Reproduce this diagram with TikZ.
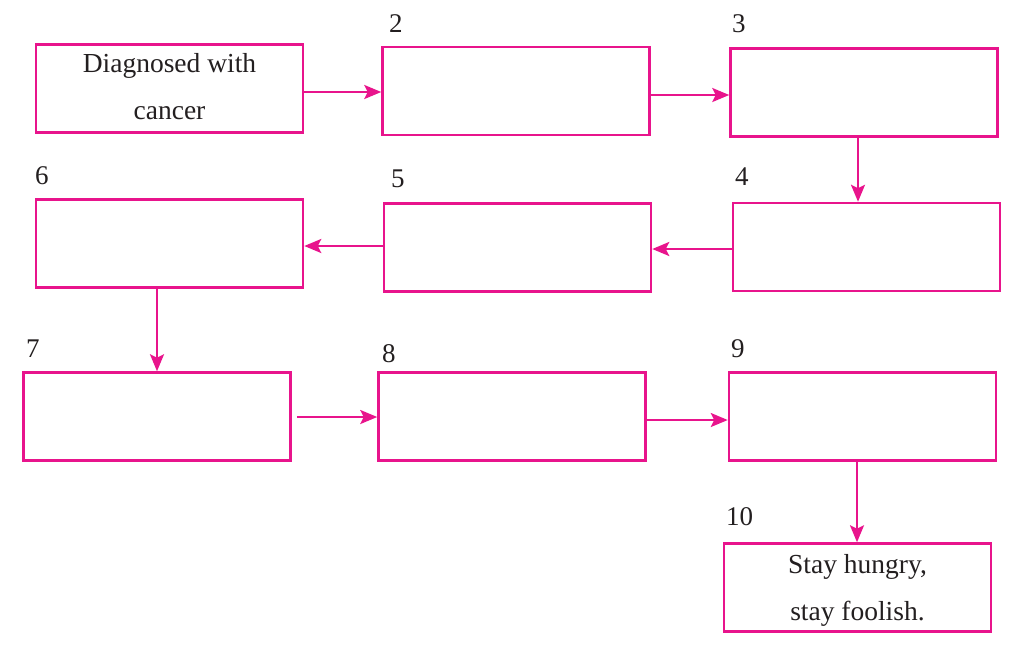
\documentclass[tikz,border=0pt]{standalone}
\usepackage{fontspec}
\setmainfont{Liberation Serif}
\usetikzlibrary{arrows.meta,calc}
\definecolor{pink}{RGB}{232,20,140}
\definecolor{ink}{RGB}{35,31,32}
\newcommand\twolines[3]{\raisebox{#1}[0pt][0pt]{\begin{tabular}[t]{@{}c@{}}#2\\#3\end{tabular}}}
\tikzset{
  box/.style={draw=pink, line width=2.5pt, minimum width=267pt, minimum height=88pt, inner sep=0pt,
    align=center, text=ink, font=\fontsize{27.5}{47}\selectfont},
  num/.style={anchor=base west, inner sep=0pt, text=ink, font=\fontsize{27}{30}\selectfont},
  arr/.style={draw=pink, line width=2.5pt, -{Stealth[length=17pt,width=14pt,inset=3.5pt]}}
}
\begin{document}
\begin{tikzpicture}[x=1pt,y=-1pt]
\useasboundingbox (0,0) rectangle (1024,667);
\node[box] (b1) at (169.5,88.5) {\twolines{16.5pt}{Diagnosed with}{cancer}};
\node[box] (b2) at (516,91) {};
\node[box] (b3) at (864,92.5) {};
\node[box] (b4) at (866.5,247) {};
\node[box] (b5) at (517.5,247.5) {};
\node[box] (b6) at (169.5,243.5) {};
\node[box] (b7) at (157,416.5) {};
\node[box] (b8) at (512,416.5) {};
\node[box] (b9) at (862.5,416.5) {};
\node[box] (b10) at (857.5,587.5) {\twolines{14.5pt}{Stay hungry,}{stay foolish.}};
\node[num] (n2) at (389,32) {2};
\node[num] (n3) at (732,32) {3};
\node[num] (n4) at (735,185) {4};
\node[num] (n5) at (391,187) {5};
\node[num] (n6) at (35,184) {6};
\node[num] (n7) at (26,357) {7};
\node[num] (n8) at (382,362) {8};
\node[num] (n9) at (731,357) {9};
\node[num] (n10) at (726,525) {10};
\coordinate (s12) at ($(b1.east)+(0,3.5)$);
\draw[arr] (s12) -- (s12 -| b2.west);
\coordinate (s23) at ($(b2.east)+(0,4)$);
\draw[arr] (s23) -- (s23 -| b3.west);
\coordinate (s34) at ($(b3.south)+(-6,0)$);
\draw[arr] (s34) -- (s34 |- b4.north);
\coordinate (s45) at ($(b4.west)+(0,2)$);
\draw[arr] (s45) -- (s45 -| b5.east);
\coordinate (s56) at ($(b5.west)+(0,-1.5)$);
\draw[arr] (s56) -- (s56 -| b6.east);
\coordinate (s67) at ($(b6.south)+(-12.5,0)$);
\draw[arr] (s67) -- (s67 |- b7.north);
\coordinate (s78) at ($(b7.east)+(5,0.5)$);
\draw[arr] (s78) -- (s78 -| b8.west);
\coordinate (s89) at ($(b8.east)+(0,3.5)$);
\draw[arr] (s89) -- (s89 -| b9.west);
\coordinate (s910) at ($(b9.south)+(-5.5,0)$);
\draw[arr] (s910) -- (s910 |- b10.north);
\end{tikzpicture}
\end{document}
